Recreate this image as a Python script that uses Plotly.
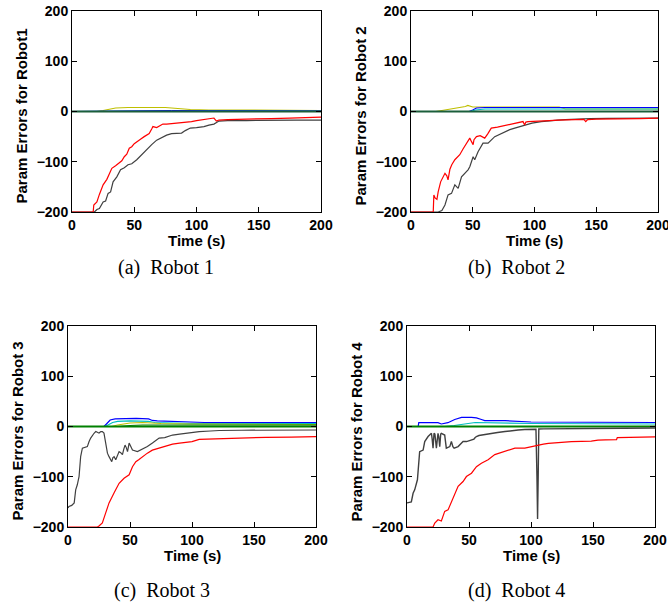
import plotly.graph_objects as go

# ---------------- data ----------------
# Robot 1
r1_red_t = [0, 17, 17.5, 20, 22, 25, 28, 30, 32, 35, 38, 40, 42, 44, 46, 48, 50, 52, 55, 58, 60, 62, 64, 65, 68, 70, 73, 76, 80, 85, 90, 93, 96, 100, 104, 108, 112, 114, 116, 118, 125, 135, 145, 160, 175, 190, 200]
r1_red_v = [-200, -200, -186, -180, -165, -146, -135, -125, -113, -108, -103, -98, -90, -85, -73, -70, -64, -60, -55, -50, -47, -44, -35, -30, -32, -29, -25, -25, -24, -23, -22, -20, -20, -18, -17, -16, -14, -13, -19, -17, -16, -15, -15, -14, -13, -12, -11]
r1_gray_t = [0, 18, 20, 22, 25, 27, 29, 31, 33, 36, 39, 42, 45, 48, 52, 55, 58, 61, 64, 68, 72, 76, 80, 84, 88, 91, 95, 100, 106, 110, 114, 118, 125, 140, 160, 180, 200]
r1_gray_v = [-200, -200, -195, -193, -180, -178, -163, -160, -140, -130, -116, -112, -106, -104, -96, -88, -80, -73, -66, -57, -52, -47, -44, -43, -43, -38, -33, -32, -30, -27, -25, -19, -18, -18, -17, -17, -17]
r1_yel_t = [0, 20, 25, 30, 35, 45, 60, 75, 85, 95, 110, 150, 200]
r1_yel_v = [0, 0, 2, 5, 7, 8, 8, 8, 6, 4, 3, 2.5, 2]
r1_blue_t = [0, 30, 40, 60, 80, 110, 200]
r1_blue_v = [0, 1, 2, 2.5, 2, 1.5, 1]
r1_cyan_t = [0, 30, 40, 60, 80, 110, 200]
r1_cyan_v = [0, 0.5, 1.5, 2, 2, 1.5, 1]

# Robot 2
r2_red_t = [0, 18, 18.5, 19.5, 21, 22, 24, 26, 27.5, 29, 30, 31.5, 33, 35.5, 37, 39.5, 42, 44.9, 46, 47.6, 49, 50.3, 51, 53, 56, 59.7, 62, 65, 70, 76, 81, 86, 90.7, 92, 93, 94.7, 100, 105.5, 112, 119, 130, 140, 141.5, 143, 150, 159, 170, 185, 200]
r2_red_v = [-200, -200, -166, -172, -175, -160, -140, -130, -123, -128, -136, -115, -106, -96, -92, -86, -75, -63, -58, -53, -60, -66, -56, -50, -48, -53, -45, -33, -31, -28, -24, -22, -20, -27, -21, -20, -19, -19, -18, -17, -16, -15.6, -20, -16, -15, -15, -14, -14, -13]
r2_gray_t = [0, 22, 25, 27.5, 30, 32.8, 35.5, 38.2, 40.9, 43.6, 46.2, 47.6, 50.3, 51.6, 54.3, 58.3, 62.4, 67.8, 72, 75.9, 80, 84, 88, 92, 98, 105.5, 112, 119, 125, 132.5, 145, 159, 175, 200]
r2_gray_v = [-200, -200, -197, -186, -166, -163, -146, -153, -130, -123, -116, -110, -90, -96, -80, -63, -63, -50, -45, -40, -36, -33, -30, -27, -23, -20, -18, -17, -16, -15, -14, -13.6, -13, -13]
r2_yel_t = [0, 20, 25, 30, 35, 40, 44, 46, 48, 50, 55, 60, 80, 100, 120, 125, 200]
r2_yel_v = [0, 0, 2, 4, 6, 8, 10, 12, 11, 9, 9, 9, 9, 9, 9, 5, 5]
r2_blue_t = [0, 47, 50, 53, 60, 200]
r2_blue_v = [0, 0, 3, 7, 8, 8]
r2_cyan_t = [0, 48, 52, 60, 200]
r2_cyan_v = [0, 0, 3, 5, 5]

# Robot 3
r3_red_t = [0, 23.7, 25, 27.7, 30.4, 33.1, 37.2, 41.2, 45.2, 49.3, 52, 54.7, 57, 60, 64, 68, 72, 76, 80, 84.3, 90, 95, 100, 105.8, 112, 122, 135, 145, 159.6, 180, 200]
r3_red_v = [-200, -200, -198, -192, -172, -152, -132, -113, -103, -96, -80, -70, -66, -60, -53, -47, -44, -40, -38, -35, -33, -32, -30, -25.5, -25, -23.6, -22.5, -22, -21.5, -21, -20]
r3_gray_t = [0, 0.8, 3, 5, 6.2, 7.5, 8.9, 10.2, 11.6, 13.5, 15.6, 17, 18.3, 21, 22.4, 24, 25, 26.5, 27.7, 29, 30.4, 31.8, 33.1, 34.3, 35.3, 36.2, 37.2, 38.5, 39.8, 41.2, 42.5, 43.9, 45, 46, 47, 48, 49.3, 50.5, 52, 56, 61.4, 64, 68.1, 73.5, 78, 84.3, 90, 95, 100, 105.8, 115, 122, 140, 159.6, 180, 200]
r3_gray_v = [-162, -159, -157, -152, -126, -116, -100, -60, -43, -42, -40, -30, -23, -13.5, -10, -12, -13, -10, -10, -13, -30, -53, -60, -66, -70, -62, -60, -66, -58, -50, -52, -56, -45, -37, -42, -50, -33, -40, -47, -50, -43, -40, -33, -23, -22, -17, -15, -13.5, -12, -10, -9, -8, -7.5, -7, -7, -7]
r3_blue_t = [0, 29, 31, 34, 38, 45, 55, 65, 68, 72, 85, 100, 110, 200]
r3_blue_v = [0, 0, 5, 13, 15, 16, 16, 15, 12, 11, 10, 9, 8, 8]
r3_cyan_t = [0, 30, 33, 36, 40, 50, 65, 70, 100, 200]
r3_cyan_v = [0, 0, 4, 8, 10, 11, 10, 8, 6, 6]
r3_yel_t = [0, 35, 40, 45, 50, 60, 68, 75, 100, 200]
r3_yel_v = [0, 0, 3, 5, 7, 8, 7, 6, 5, 4]
r3_lgreen_t = [0, 40, 50, 60, 100, 200]
r3_lgreen_v = [0, 0, 2, 3, 3, 3]

# Robot 4
r4_red_t = [0, 21, 22.4, 25, 27.7, 30.4, 33.1, 35.8, 38.5, 41.2, 45.2, 47.9, 52, 56, 60, 65.4, 70.8, 75, 79, 83, 87, 95, 100, 105, 110, 114, 120, 132.6, 148.6, 154, 160, 169, 169.6, 175, 185, 200]
r4_red_v = [-200, -200, -192, -185.5, -188, -169, -166, -149, -133, -119, -109.5, -99.6, -93, -80, -73, -66, -56, -53, -50, -47, -43, -43, -40, -37, -35, -33.6, -32, -30, -29, -27, -26.5, -26, -22, -21.5, -21, -20.5]
r4_gray_t = [0, 3.5, 4.9, 6.2, 8.4, 9.4, 10.2, 13, 14.3, 17, 19.7, 20.3, 21, 21.8, 22.5, 23.7, 24.4, 25, 25.6, 26.4, 27.2, 27.7, 30.4, 31.2, 31.7, 34.5, 35.8, 37, 38, 41.2, 45.2, 48, 52, 54, 55, 56, 58, 60, 64, 68, 73, 79, 84, 89.6, 95, 100, 104, 104.8, 105.3, 105.8, 106.3, 110, 120, 135, 150, 159.6, 175, 200]
r4_gray_v = [-152, -150, -133, -126, -106, -73, -50, -47, -30, -20, -13.5, -25, -43, -13.5, -15, -43, -20, -13.5, -20, -40, -15, -13.5, -17, -30, -43, -40, -30, -40, -43, -40, -30, -30, -27, -25, -22, -20, -18, -17, -15, -13.5, -12, -10, -8, -7, -6, -6, -5.6, -100, -184, -100, -5, -4.8, -4.4, -4.2, -4, -3.8, -3.5, -3]
r4_blue_t = [0, 9, 9.5, 25, 27.7, 30, 33, 38.5, 44, 52, 56, 60, 62.7, 79, 100, 150, 200]
r4_blue_v = [0, 0, 7.6, 7.6, 5, 6, 7.6, 14, 18, 18, 17, 14, 11.6, 11.6, 9, 8.5, 8]
r4_cyan_t = [0, 30, 38, 45, 55, 100, 200]
r4_cyan_v = [0, 0, 2, 5, 8, 6, 5]

zero_t = [0, 200]
zero_v = [0, 0]

x_ticks = [0, 50, 100, 150, 200]
y_ticks = [-200, -100, 0, 100, 200]
y_tick_labels = ["\u2212200", "\u2212100", "0", "100", "200"]
y_titles = ["Param Errors for Robot1", "Param Errors for Robot 2",
            "Param Errors for Robot 3", "Param Errors for Robot 4"]
captions = ["(a)\u00a0 Robot 1", "(b)\u00a0 Robot 2", "(c)\u00a0 Robot 3", "(d)\u00a0 Robot 4"]

# ---------------- styles ----------------
RED = "#ff0000"
GRAY = "#404040"
YEL = "#bfbf00"
BLUE = "#0000ff"
CYAN = "#00bfbf"
GREEN = "#008000"
DGREEN = "#1b5e3b"

W, H = 668, 605
# plot areas in pixels: (left, right, top, bottom)
boxes = [(72, 321, 11, 212), (411, 658, 11, 212), (68, 316, 326, 527), (407, 655, 326, 527)]
cap_pos = [(166, 267), (516, 267), (162, 590), (516, 590)]

robots = [
    [(r1_yel_t, r1_yel_v, YEL, 1.2), (r1_cyan_t, r1_cyan_v, CYAN, 1.2), (r1_blue_t, r1_blue_v, BLUE, 1.0),
     (zero_t, zero_v, DGREEN, 2.2), (r1_gray_t, r1_gray_v, GRAY, 1.2), (r1_red_t, r1_red_v, RED, 1.2)],
    [(r2_yel_t, r2_yel_v, YEL, 1.2), (r2_blue_t, r2_blue_v, BLUE, 1.2), (r2_cyan_t, r2_cyan_v, CYAN, 1.2),
     (zero_t, zero_v, DGREEN, 2.2), (r2_gray_t, r2_gray_v, GRAY, 1.2), (r2_red_t, r2_red_v, RED, 1.2)],
    [(r3_blue_t, r3_blue_v, BLUE, 1.2), (r3_cyan_t, r3_cyan_v, CYAN, 1.2), (r3_yel_t, r3_yel_v, YEL, 1.2),
     (r3_lgreen_t, r3_lgreen_v, GREEN, 1.2), (zero_t, zero_v, GREEN, 2.0),
     (r3_gray_t, r3_gray_v, GRAY, 1.2), (r3_red_t, r3_red_v, RED, 1.2)],
    [(r4_blue_t, r4_blue_v, BLUE, 1.2), (r4_cyan_t, r4_cyan_v, CYAN, 1.2), (zero_t, zero_v, GREEN, 2.0),
     (r4_gray_t, r4_gray_v, GRAY, 1.4), (r4_red_t, r4_red_v, RED, 1.2)],
]

fig = go.Figure()
SANS = "Liberation Sans, Arial, sans-serif"
TICKFONT = dict(family=SANS, size=14, color="black", weight="bold")
layout = dict(width=W, height=H, margin=dict(l=0, r=0, t=0, b=0, autoexpand=False),
              paper_bgcolor="white", plot_bgcolor="white", showlegend=False, template="none")
annotations = []
for i, (series, box) in enumerate(zip(robots, boxes)):
    k = "" if i == 0 else str(i + 1)
    l, r, t, b = box
    for (xs, ys, col, lw) in series:
        fig.add_trace(go.Scatter(x=xs, y=ys, mode="lines", line=dict(color=col, width=lw),
                                 xaxis="x" + k, yaxis="y" + k, hoverinfo="skip"))
    common = dict(ticks="inside", ticklen=5, tickcolor="black", showline=True, linecolor="black",
                  linewidth=1, mirror="ticks", showgrid=False, zeroline=False, tickfont=TICKFONT,
                  automargin=False, ticklabeloverflow="allow")
    layout["xaxis" + k] = dict(domain=[l / W, r / W], range=[0, 200], anchor="y" + k,
                               tickvals=x_ticks, **common)
    layout["yaxis" + k] = dict(domain=[1 - b / H, 1 - t / H], range=[-200, 200], anchor="x" + k,
                               tickvals=y_ticks, ticktext=y_tick_labels, **common)
    annotations.append(dict(text="Time (s)", x=(l + r) / 2 / W, y=1 - (b + 28) / H, xref="paper", yref="paper",
                            showarrow=False, xanchor="center", yanchor="middle",
                            font=dict(family=SANS, size=15, color="black", weight="bold")))
    annotations.append(dict(text=y_titles[i], x=(l - 51) / W, y=1 - ((t + b) / 2 + 5) / H, xref="paper", yref="paper",
                            showarrow=False, xanchor="center", yanchor="middle", textangle=-90,
                            font=dict(family=SANS, size=15, color="black", weight="bold")))
    cx, cy = cap_pos[i]
    annotations.append(dict(text=captions[i], x=cx / W, y=1 - cy / H, xref="paper", yref="paper",
                            showarrow=False, xanchor="center", yanchor="middle",
                            font=dict(family="Liberation Serif, Times New Roman, serif", size=20, color="black")))
layout["annotations"] = annotations
fig.update_layout(**layout)
fig.write_html("out.html", config={"displayModeBar": False},
               post_script="document.body.style.margin='0';document.body.style.overflow='hidden';")
